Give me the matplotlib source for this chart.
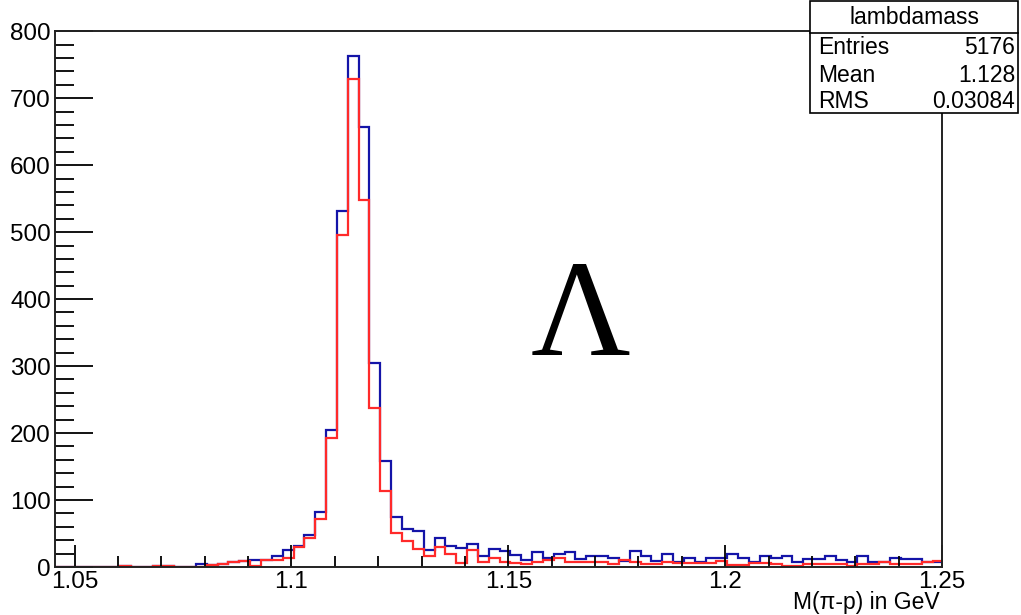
import numpy as np
import matplotlib
matplotlib.use("Agg")
import matplotlib.pyplot as plt
from matplotlib.patches import Rectangle
from matplotlib.ticker import MultipleLocator

# ---- data ----
bin_start = 1.0455
bin_width = 0.0025
n_bins = 82

blue_counts = [0, 0, 0, 0, 0, 0, 1, 0, 0, 1,
               1, 0, 0, 4, 3, 5, 7, 9, 10, 11,
               16, 26, 32, 48, 82, 205, 531, 763, 657, 305,
               159, 75, 56, 54, 25, 43, 31, 29, 34, 17,
               27, 24, 18, 11, 22, 14, 20, 22, 12, 16,
               16, 14, 9, 24, 17, 9, 19, 8, 14, 8,
               14, 14, 19, 14, 8, 16, 13, 16, 8, 12,
               12, 16, 11, 8, 16, 8, 8, 14, 12, 12,
               8, 8]

red_counts = [0, 0, 0, 0, 0, 0, 1, 0, 0, 1,
              1, 0, 0, 0, 3, 5, 8, 9, 1, 10,
              11, 13, 30, 43, 71, 192, 496, 728, 548, 238,
              113, 51, 39, 27, 17, 30, 20, 6, 25, 8,
              14, 8, 6, 4, 7, 10, 13, 7, 7, 8,
              8, 4, 10, 8, 5, 5, 8, 6, 6, 6,
              6, 9, 3, 3, 6, 6, 4, 2, 2, 5,
              4, 4, 4, 2, 5, 4, 8, 5, 5, 5,
              8, 9]

x_ticks = [1.05, 1.1, 1.15, 1.2, 1.25]
x_tick_labels = ["1.05", "1.1", "1.15", "1.2", "1.25"]
y_ticks = [0, 100, 200, 300, 400, 500, 600, 700, 800]

stats_title = "lambdamass"
stats_names = ["Entries", "Mean", "RMS"]
stats_values = ["5176", "1.128", "0.03084"]

x_title = "M(\u03c0-p) in GeV"
big_symbol = "\u039b"

# ---- figure ----
W, H = 1021, 615
plt.rcParams['font.family'] = ['Liberation Sans', 'DejaVu Sans']
fig = plt.figure(figsize=(W / 100, H / 100), dpi=100)
fig.patch.set_facecolor('white')

left_px, right_px, top_px, bot_px = 55, 942, 30.5, 567
ax = fig.add_axes([left_px / W, 1 - bot_px / H,
                   (right_px - left_px) / W, (bot_px - top_px) / H])

edges = bin_start + bin_width * np.arange(n_bins + 1)
ax.stairs(blue_counts, edges, color='#1414a8', linewidth=1.6, baseline=0)
ax.stairs(red_counts, edges, color='#ff2a2a', linewidth=1.6, baseline=0)

ax.set_xlim(bin_start, 1.25)
ax.set_ylim(0, 801)

ax.set_xticks(x_ticks)
ax.set_xticklabels(x_tick_labels)
ax.set_yticks(y_ticks)
ax.xaxis.set_minor_locator(MultipleLocator(0.01))
ax.yaxis.set_minor_locator(MultipleLocator(20))

ax.tick_params(axis='x', which='major', direction='in', length=16, width=1.3,
               labelsize=17.5, pad=3, top=False)
ax.tick_params(axis='x', which='minor', direction='in', length=8, width=1.3, top=False)
ax.tick_params(axis='y', which='major', direction='in', length=27, width=1.3,
               labelsize=17.5, pad=3, right=False)
ax.tick_params(axis='y', which='minor', direction='in', length=13.5, width=1.3, right=False)

for s in ax.spines.values():
    s.set_linewidth(1.4)
    s.set_color('#222222')

# axis title, right aligned at end of axis
fig.text(940 / W, 1 - 603 / H, x_title, ha='right', va='center', fontsize=16.5)

# big Lambda
ax.text(0.593, 0.395, big_symbol, transform=ax.transAxes, ha='center', va='baseline',
        fontsize=99, family='Liberation Serif')

# stats box
bx0, bx1, by0, by1 = 810, 1018, 1, 113
fig.patches.append(Rectangle((bx0 / W, 1 - by1 / H), (bx1 - bx0) / W, (by1 - by0) / H,
                             transform=fig.transFigure, facecolor='white',
                             edgecolor='black', linewidth=1.2, zorder=5))
fig.add_artist(plt.Line2D([bx0 / W, bx1 / W], [1 - 33 / H, 1 - 33 / H],
                          transform=fig.transFigure, color='black', linewidth=1.2, zorder=6))
fig.text((bx0 + bx1) / 2 / W, 1 - 18 / H, stats_title, ha='center', va='center',
         fontsize=16.5, zorder=7)
row_y = [47, 75, 102]
for name, val, yy in zip(stats_names, stats_values, row_y):
    fig.text(818 / W, 1 - yy / H, name, ha='left', va='center', fontsize=16.5, zorder=7)
    fig.text(1015 / W, 1 - yy / H, val, ha='right', va='center', fontsize=16.5, zorder=7)

fig.savefig('out.png', dpi=100)
